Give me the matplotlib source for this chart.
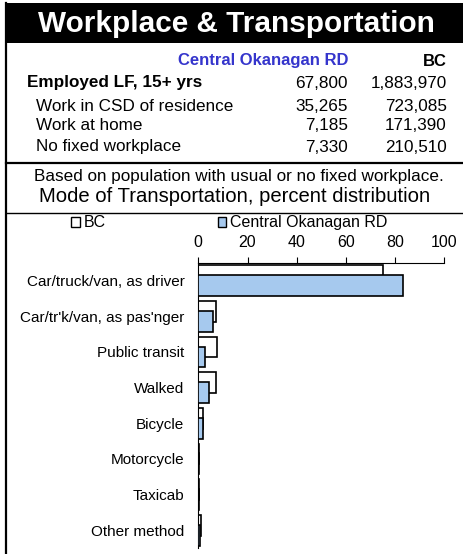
import numpy as np
import matplotlib
matplotlib.use("Agg")
import matplotlib.pyplot as plt
from matplotlib.patches import Rectangle, Patch
from matplotlib.lines import Line2D

plt.rcParams['font.family'] = ['Liberation Sans', 'DejaVu Sans']

# table data
region = "Central Okanagan RD"
province = "BC"
row_labels = ["Employed LF, 15+ yrs", "Work in CSD of residence", "Work at home", "No fixed workplace"]
region_vals = ["67,800", "35,265", "7,185", "7,330"]
bc_vals = ["1,883,970", "723,085", "171,390", "210,510"]

# chart data (percent)
modes = ["Car/truck/van, as driver", "Car/tr'k/van, as pas'nger", "Public transit", "Walked",
         "Bicycle", "Motorcycle", "Taxicab", "Other method"]
bc_pct = [75.0, 7.1, 7.5, 7.1, 1.9, 0.3, 0.2, 0.9]
region_pct = [83.3, 5.8, 2.6, 4.5, 2.0, 0.3, 0.1, 0.8]
xticks = [0, 20, 40, 60, 80, 100]

W, H = 463, 554
fig = plt.figure(figsize=(W / 100, H / 100), dpi=100)

def fx(px):
    return px / W

def fy(py):
    return 1 - py / H

# frame and title band
fig.add_artist(Rectangle((fx(5), fy(43)), 1 - fx(5), fy(3) - fy(43), transform=fig.transFigure,
                         facecolor='black', edgecolor='none'))
fig.add_artist(Line2D([fx(6), fx(6)], [fy(3), 0], transform=fig.transFigure, color='black', lw=1.6))
fig.add_artist(Line2D([fx(6), 1], [fy(163), fy(163)], transform=fig.transFigure, color='black', lw=1.6))
fig.add_artist(Line2D([fx(6), 1], [fy(213), fy(213)], transform=fig.transFigure, color='black', lw=1.0))

fig.text(fx(236), fy(24), "Workplace & Transportation", color='white', fontsize=21.4,
         fontweight='bold', ha='center', va='center')

fig.text(fx(348), fy(61), region, color='#3535CC', fontsize=12, fontweight='bold',
         ha='right', va='center')
fig.text(fx(447), fy(61), province, color='black', fontsize=12, fontweight='bold',
         ha='right', va='center')

row_y = [83, 106, 126, 147]
for i, lab in enumerate(row_labels):
    bold = i == 0
    fig.text(fx(27 if bold else 36), fy(row_y[i]), lab, fontsize=12.3,
             fontweight='bold' if bold else 'normal', ha='left', va='center')
    fig.text(fx(348), fy(row_y[i]), region_vals[i], fontsize=12.3, ha='right', va='center')
    fig.text(fx(447), fy(row_y[i]), bc_vals[i], fontsize=12.3, ha='right', va='center')

fig.text(fx(239), fy(177), "Based on population with usual or no fixed workplace.",
         fontsize=12.3, ha='center', va='center')
fig.text(fx(235), fy(197), "Mode of Transportation, percent distribution",
         fontsize=14.6, ha='center', va='center')

# bar chart
ax = fig.add_axes([fx(198.3), fy(548), fx(444.3) - fx(198.3), fy(262.7) - fy(548)])
y = np.arange(len(modes))
h = 0.58
off = 0.14
bar_blue = '#A6C9EE'
ax.barh(y - off, bc_pct, height=h, color='white', edgecolor='black', linewidth=1.2, zorder=2)
ax.barh(y + off, region_pct, height=h, color=bar_blue, edgecolor='black', linewidth=1.2, zorder=3)

ax.set_xlim(0, 100)
ax.set_ylim(len(modes) - 0.5, -0.5)
ax.set_xticks(xticks)
ax.xaxis.tick_top()
ax.tick_params(axis='x', direction='out', length=4, width=0.8, pad=5, labelsize=11.5)
ax.set_yticks(y)
ax.set_yticklabels(modes)
ax.tick_params(axis='y', length=0, pad=10, labelsize=11)
for s in ['right', 'bottom']:
    ax.spines[s].set_visible(False)
ax.spines['top'].set_linewidth(0.8)
ax.spines['left'].set_linewidth(0.8)

handles = [Patch(facecolor='white', edgecolor='black', linewidth=1.0, label=province),
           Patch(facecolor=bar_blue, edgecolor='black', linewidth=1.0, label=region)]
fig.legend(handles=handles, loc='center left', bbox_to_anchor=(fx(63), fy(223)), ncol=2,
           frameon=False, fontsize=11.5, handlelength=0.55, handleheight=0.55, handletextpad=0.25,
           columnspacing=7.0, borderpad=0)

fig.savefig("out.png", dpi=100)
